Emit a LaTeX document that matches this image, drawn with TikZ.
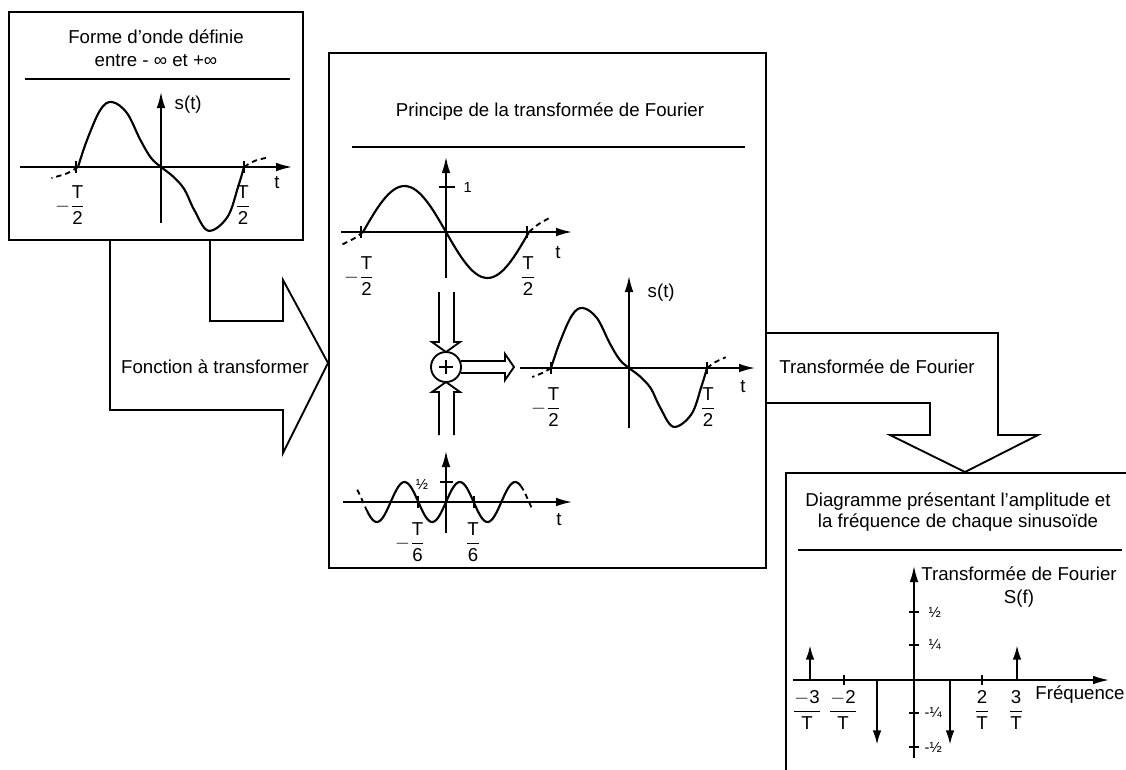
\documentclass[tikz,border=0pt]{standalone}
\usepackage{amsmath}
\usepackage{fontspec}
\setmainfont{Liberation Sans}
\usetikzlibrary{arrows.meta}
\newcommand{\sigpath}{plot[smooth,tension=0.6] coordinates {(-1,0) (-0.89,0.42) (-0.73,0.88) (-0.59,1) (-0.41,0.83) (-0.25,0.42) (-0.12,0.14) (0,0) (0.14,-0.14) (0.28,-0.34) (0.40,-0.66) (0.57,-0.98) (0.8,-0.77) (0.93,-0.3) (1,0)}}
\newcommand{\frc}[2]{$\dfrac{\text{#1}}{\text{#2}}$}

\begin{document}
\begin{tikzpicture}[x=0.75pt,y=-0.75pt,
  boxline/.style={line width=1.4pt,line join=miter},
  axisline/.style={line width=1.2pt,-{Latex[length=12pt,width=6.5pt]}},
  spike/.style={line width=1.7pt,-{Latex[length=11pt,width=6.5pt]}},
  wave/.style={line width=1.6pt},
  wavedash/.style={line width=1.4pt,dash pattern=on 4pt off 3pt},
  tick/.style={line width=1.2pt},
  lbl/.style={font=\fontsize{14}{17}\selectfont},
  sml/.style={font=\fontsize{11}{13}\selectfont}]
\useasboundingbox (0,0) rectangle (1126,769);
\clip (0,0) rectangle (1126,769);

% boxes and rules
\draw[boxline] (9,12) rectangle (303,240);
\draw[boxline] (329,53) rectangle (766,568);
\draw[boxline] (786,790) -- (786,473) -- (1140,473);
\draw[boxline] (25,79) -- (290,79);
\draw[boxline] (352,147) -- (745,147);
\draw[boxline] (798,550) -- (1122,550);

% block arrows
\draw[boxline] (110,240) -- (110,410) -- (283,410) -- (283,453) -- (328,363) -- (283,280) -- (283,321) -- (210,321) -- (210,240);
\draw[boxline] (766,333) -- (998,333) -- (998,435) -- (1038,435) -- (965,472) -- (890,435) -- (930,435) -- (930,403) -- (766,403);
\node[lbl] (fct) at (215,367) {Fonction à transformer};
\node[lbl] (tf) at (877,367) {Transformée de Fourier};

% box 1
\node[lbl,align=center] (ttlonde) at (156,48) {Forme d’onde définie\\entre - ∞ et +∞};
\draw[axisline] (20,167) -- (292,167);
\draw[axisline] (161,223) -- (161,92);
\foreach \tx in {76,244} \draw[tick] (\tx,161) -- (\tx,173);
\begin{scope}[shift={(161,167)},xscale=83,yscale=-65]
\draw[wave] \sigpath;
\draw[wavedash] (-1,0) .. controls (-1.12,-0.1) .. (-1.32,-0.17);
\draw[wavedash] (1,0) .. controls (1.12,0.1) .. (1.3,0.15);
\end{scope}
\node[lbl,anchor=west] (st1) at (170,105) {s(t)};
\node[lbl] (t1) at (277,183) {t};
\node[lbl] (mt1) at (70,205) {$-$\frc{T}{2}};
\node[lbl] (pt1) at (243,205) {\frc{T}{2}};

% box 2
\node[lbl] (ttlprinc) at (550,112) {Principe de la transformée de Fourier};
\draw[axisline] (341,232) -- (572,232);
\draw[axisline] (446,278) -- (446,157);
\draw[tick] (439,187) -- (455,187);
\foreach \tx in {361,527} \draw[tick] (\tx,226) -- (\tx,238);
\begin{scope}[shift={(446,232)},xscale=83,yscale=-46]
\draw[wave] plot[domain=-1:1,samples=60,smooth] (\x,{-sin(180*\x)});
\draw[wavedash] (-1,0) .. controls (-1.1,-0.14) .. (-1.25,-0.27);
\draw[wavedash] (1,0) .. controls (1.1,0.16) .. (1.24,0.3);
\end{scope}
\node[sml,anchor=west] (un) at (459,187) {1};
\node[lbl] (t2) at (558,253) {t};
\node[lbl] (mt2) at (359,276) {$-$\frc{T}{2}};
\node[lbl] (pt2) at (528,276) {\frc{T}{2}};

% summing point
\draw[line width=1.4pt] (446,367) circle (15);
\draw[line width=1.7pt] (439,367) -- (453,367) (446,360) -- (446,374);
\draw[boxline] (439,292) -- (439,342) -- (432,342) -- (446,352) -- (460,342) -- (454,342) -- (454,292);
\draw[boxline] (439,435) -- (439,392) -- (432,392) -- (446,382) -- (460,392) -- (454,392) -- (454,435);
\draw[boxline] (461,361) -- (505,361) -- (505,354) -- (514,367) -- (505,380) -- (505,373) -- (461,373);

% sum
\draw[axisline] (520,368) -- (755,368);
\draw[axisline] (629,428) -- (629,276);
\foreach \tx in {551,707} \draw[tick] (\tx,362) -- (\tx,374);
\begin{scope}[shift={(629,368)},xscale=78,yscale=-60]
\draw[wave] \sigpath;
\draw[wavedash] (-1,0) .. controls (-1.1,-0.08) .. (-1.24,-0.15);
\draw[wavedash] (1,0) .. controls (1.1,0.1) .. (1.24,0.18);
\end{scope}
\node[lbl,anchor=west] (st2) at (643,293) {s(t)};
\node[lbl] (t3) at (743,387) {t};
\node[lbl] (mt3) at (546,407) {$-$\frc{T}{2}};
\node[lbl] (pt3) at (708,407) {\frc{T}{2}};

% third harmonic
\draw[axisline] (343,502) -- (572,502);
\draw[axisline] (446,533) -- (446,451);
\draw[tick] (440,482) -- (453,482);
\foreach \tx in {418,474} \draw[tick] (\tx,496) -- (\tx,508);
\begin{scope}[shift={(446,502)},xscale=83,yscale=-40]
\draw[wave] plot[domain=-0.95:0.9,samples=90,smooth] (\x,{0.5*sin(540*\x)});
\draw[wavedash] plot[domain=-1.07:-0.95,samples=10,smooth] (\x,{0.5*sin(540*\x)});
\draw[wavedash] plot[domain=0.9:1.04,samples=10,smooth] (\x,{0.5*sin(540*\x)});
\end{scope}
\node[sml] (demi) at (422,484) {½};
\node[lbl] (t4) at (559,520) {t};
\node[lbl] (mt4) at (410,542) {$-$\frc{T}{6}};
\node[lbl] (pt4) at (473,542) {\frc{T}{6}};

% box 3
\node[lbl,align=center,font=\fontsize{14}{16}\selectfont] (ttldiag) at (958,512) {Diagramme présentant l’amplitude et\\la fréquence de chaque sinusoïde};
\draw[axisline] (793,680) -- (1109,680);
\draw[axisline] (914,758) -- (914,566);
\foreach \ty in {612,645,713,747} \draw[tick] (909,\ty) -- (919,\ty);
\foreach \tx in {844,982} \draw[tick] (\tx,675) -- (\tx,685);
\draw[spike] (810,680) -- (810,645);
\draw[spike] (1017,680) -- (1017,645);
\draw[spike] (877,680) -- (877,745);
\draw[spike] (950,680) -- (950,745);
\node[lbl,align=center,anchor=north] (tfs) at (1019,562) {Transformée de Fourier\\S(f)};
\node[sml,anchor=west] (qa) at (924,612) {½};
\node[sml,anchor=west] (qb) at (924,645) {¼};
\node[sml,anchor=west] (qc) at (920,713) {-¼};
\node[sml,anchor=west] (qd) at (920,747) {-½};
\node[lbl] (fm3) at (807,710) {$\dfrac{-\text{3}}{\text{T}}$};
\node[lbl] (fm2) at (843,710) {$\dfrac{-\text{2}}{\text{T}}$};
\node[lbl] (fp2) at (982,710) {\frc{2}{T}};
\node[lbl] (fp3) at (1016,710) {\frc{3}{T}};
\node[lbl] (freq) at (1080,695) {Fréquence};
\end{tikzpicture}
\end{document}
